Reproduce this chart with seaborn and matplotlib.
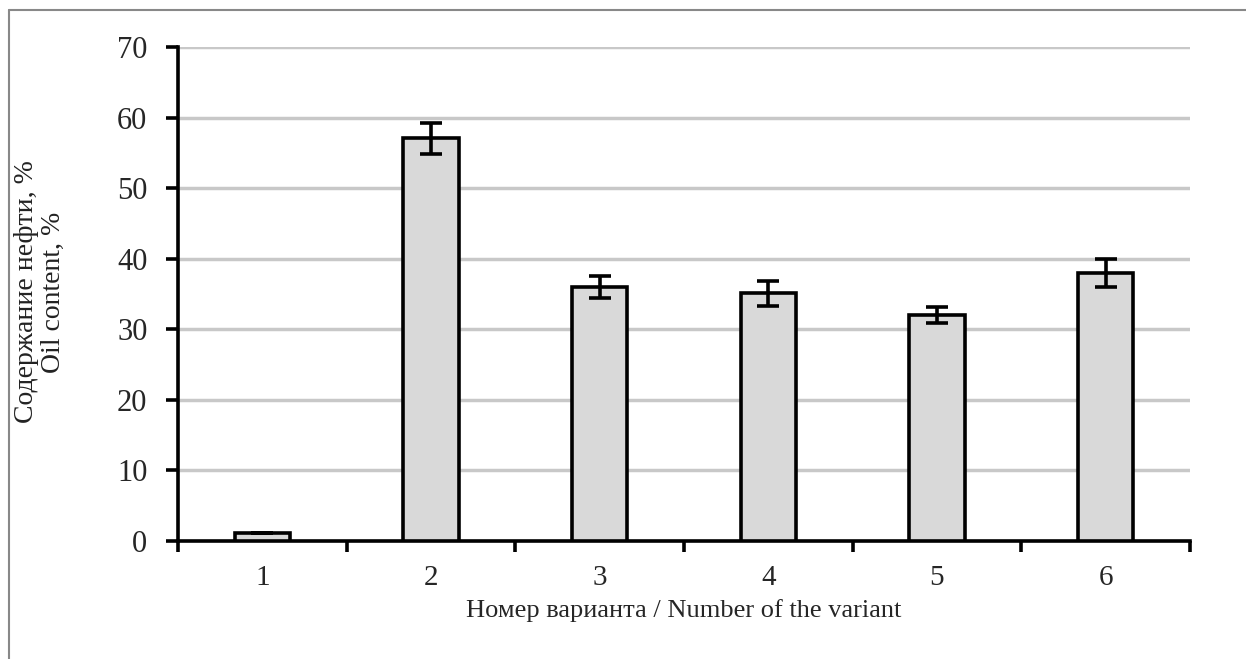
import matplotlib
matplotlib.use("Agg")
import matplotlib.pyplot as plt
import seaborn as sns
import pandas as pd
import numpy as np
from matplotlib.lines import Line2D

variants = ["1", "2", "3", "4", "5", "6"]
oil_content = [1.1, 57.1, 36.0, 35.1, 32.0, 38.0]
errors = [0.0, 2.2, 1.5, 1.8, 1.1, 2.0]
y_ticks = [0, 10, 20, 30, 40, 50, 60, 70]

sns.set_theme(style="white")
plt.rcParams["font.family"] = ["Liberation Serif", "DejaVu Serif"]

df = pd.DataFrame({"variant": variants, "oil": oil_content, "err": errors})

fig = plt.figure(figsize=(12.46, 6.59), dpi=100)
ax = fig.add_axes([178/1246, 118/659, (1190-178)/1246, (541-47)/659])

sns.barplot(data=df, x="variant", y="oil", ax=ax, color="#d9d9d9",
            edgecolor="black", linewidth=2.6, width=0.33, saturation=1,
            errorbar=None, zorder=3)

ax.errorbar(x=np.arange(len(variants)), y=df["oil"], yerr=df["err"],
            fmt="none", ecolor="black", elinewidth=2.6, capsize=8,
            capthick=2.6, zorder=4)

ax.set_xlim(-0.5, len(variants) - 0.5)
ax.set_ylim(0, 70)
ax.set_yticks(y_ticks)
ax.set_yticklabels([str(t) for t in y_ticks], fontsize=22)
ax.yaxis.grid(True, color="#c8c8c8", linewidth=2.5, zorder=0)
ax.set_axisbelow(True)

ax.set_xticks(np.arange(len(variants)))
ax.set_xticklabels(variants, fontsize=21)
ax.tick_params(axis="x", which="major", length=0, pad=17, bottom=False)
ax.set_xticks(np.arange(-0.5, len(variants)), minor=True)
ax.tick_params(axis="x", which="minor", bottom=True, length=8, width=2.6,
               color="black", direction="out")
ax.tick_params(axis="y", length=9, width=2.6, color="black", direction="out",
               pad=13, left=True)

for s in ["top", "right"]:
    ax.spines[s].set_visible(False)
for s in ["left", "bottom"]:
    ax.spines[s].set_visible(True)
    ax.spines[s].set_color("black")
    ax.spines[s].set_linewidth(2.6)

ax.set_xlabel("Номер варианта / Number of the variant", fontsize=19)
ax.xaxis.set_label_coords(0.5, -0.118)
ax.set_ylabel("")

# two-line y label
y_mid = 1 - 292 / 659
fig.text(27/1246, y_mid, "Содержание нефти, %", rotation=90, ha="center",
         va="center", fontsize=20, color="#222222")
fig.text(53/1246, y_mid, "Oil content, %", rotation=90, ha="center",
         va="center", fontsize=20, color="#222222")

# outer frame
fig.add_artist(Line2D([9/1246, 9/1246], [0, 1 - 10/659], transform=fig.transFigure,
                      color="#888888", linewidth=1.5))
fig.add_artist(Line2D([9/1246, 1], [1 - 10/659, 1 - 10/659], transform=fig.transFigure,
                      color="#888888", linewidth=1.5))

fig.savefig("out.png", dpi=100)
